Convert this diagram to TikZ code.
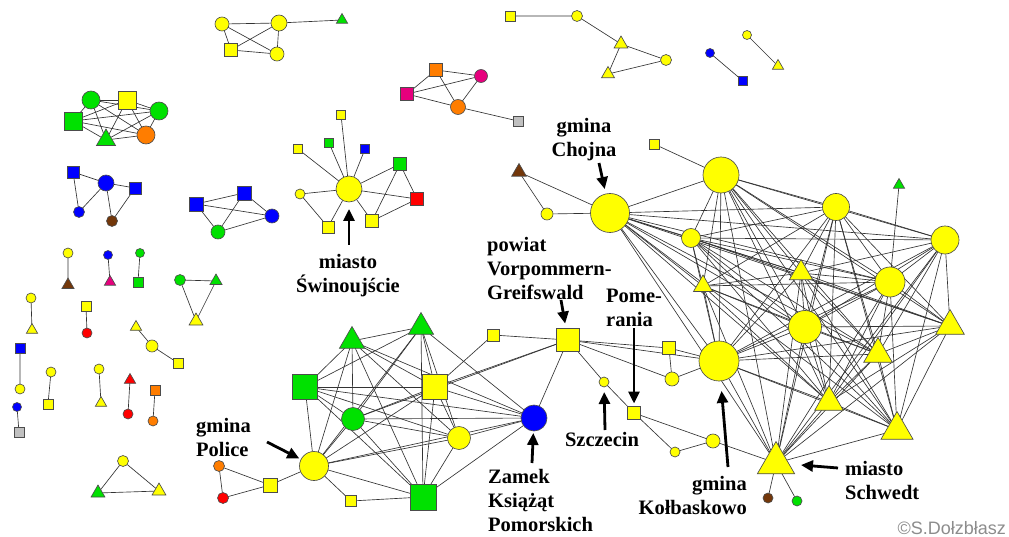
\documentclass[tikz,border=0pt]{standalone}
\usepackage{fontspec}
\setmainfont{Liberation Serif}[BoldFont={Liberation Serif Bold}]
\newfontfamily\creditfont{Liberation Sans}
\usepackage{tikz}
\usetikzlibrary{shapes.geometric, arrows.meta, backgrounds}

\definecolor{nodeyellow}{RGB}{255,255,0}
\definecolor{nodegreen}{RGB}{0,225,0}
\definecolor{nodeblue}{RGB}{0,0,255}
\definecolor{nodeorange}{RGB}{255,125,0}
\definecolor{nodemagenta}{RGB}{230,0,125}
\definecolor{nodered}{RGB}{255,0,0}
\definecolor{nodebrown}{RGB}{115,55,10}
\definecolor{nodegrey}{RGB}{192,192,192}

\begin{document}
\begin{tikzpicture}[x=1pt, y=-1pt,
    vertex/.style={draw=black!70, line width=0.65pt, inner sep=0pt, outer sep=0pt},
    circ/.style={vertex, circle, minimum size=#1},
    sq/.style={vertex, rectangle, minimum size=#1},
    tri/.style={vertex, regular polygon, regular polygon sides=3, minimum size=#1},
    link/.style={draw=black!80, line width=0.65pt},
    pointer/.style={-{Triangle[length=12pt, width=11pt]}, line width=2.8pt, black},
    callout/.style={font=\bfseries\fontsize{20.5}{24}\selectfont, inner sep=0pt}
]
\useasboundingbox (0,0) rectangle (1009,537);

% small groups on the left
\node[circ=18, fill=nodegreen] (tlA) at (91,100) {};
\node[sq=18, fill=nodeyellow] (tlB) at (127,100) {};
\node[circ=18, fill=nodegreen] (tlC) at (159,111) {};
\node[sq=18, fill=nodegreen] (tlD) at (73,121) {};
\node[tri=22, fill=nodegreen] (tlE) at (106,140) {};
\node[circ=18, fill=nodeorange] (tlF) at (146,135) {};

\node[sq=12, fill=nodeblue] (bA) at (73,172) {};
\node[circ=16, fill=nodeblue] (bB) at (106,183) {};
\node[sq=12, fill=nodeblue] (bC) at (135,188) {};
\node[circ=11, fill=nodeblue] (bD) at (79,212) {};
\node[circ=11, fill=nodebrown] (bE) at (112,221) {};

\node[sq=14, fill=nodeblue] (bgA) at (196,204) {};
\node[sq=14, fill=nodeblue] (bgB) at (244,193) {};
\node[circ=14, fill=nodeblue] (bgC) at (272,216) {};
\node[circ=14, fill=nodegreen] (bgD) at (218,232) {};

\node[circ=14, fill=nodeyellow] (tA) at (222,24) {};
\node[circ=16, fill=nodeyellow] (tB) at (279,23) {};
\node[sq=13, fill=nodeyellow] (tC) at (231,50) {};
\node[circ=14, fill=nodeyellow] (tD) at (277,54) {};
\node[tri=13, fill=nodegreen] (tE) at (342,20) {};

\node[circ=10, fill=nodeyellow] (a1) at (68,253) {};
\node[tri=14, fill=nodebrown] (a2) at (68,285) {};
\node[circ=9, fill=nodeblue] (b1) at (108,255) {};
\node[tri=13, fill=nodemagenta] (b2) at (110,282) {};
\node[circ=9, fill=nodegreen] (c1) at (140,253) {};
\node[sq=10, fill=nodegreen] (c2) at (138,282) {};
\node[circ=11, fill=nodegreen] (d1) at (180,280) {};
\node[tri=14, fill=nodegreen] (d2) at (216,281) {};
\node[tri=16, fill=nodeyellow] (d3) at (196,321) {};
\node[circ=10, fill=nodeyellow] (e1) at (31,298) {};
\node[tri=13, fill=nodeyellow] (e2) at (32,330) {};
\node[sq=10, fill=nodeyellow] (f1) at (86,306) {};
\node[circ=10, fill=nodered] (f2) at (87,333) {};
\node[tri=13, fill=nodeyellow] (g1) at (136,327) {};
\node[circ=12, fill=nodeyellow] (g2) at (152,346) {};
\node[sq=10, fill=nodeyellow] (g3) at (178,363) {};
\node[sq=10, fill=nodeblue] (h1) at (20,348) {};
\node[circ=10, fill=nodeyellow] (h2) at (20,389) {};
\node[circ=10, fill=nodeyellow] (i1) at (51,372) {};
\node[sq=10, fill=nodeyellow] (i2) at (48,404) {};
\node[circ=10, fill=nodeyellow] (j1) at (99,369) {};
\node[tri=13, fill=nodeyellow] (j2) at (101,403) {};
\node[tri=13, fill=nodered] (k1) at (130,380) {};
\node[circ=10, fill=nodered] (k2) at (128,414) {};
\node[sq=10, fill=nodeorange] (l1) at (155,390) {};
\node[circ=10, fill=nodeorange] (l2) at (153,421) {};
\node[circ=9, fill=nodeblue] (m1) at (17,407) {};
\node[sq=10, fill=nodegrey] (m2) at (19,432) {};
\node[circ=11, fill=nodeyellow] (n1) at (123,461) {};
\node[tri=16, fill=nodegreen] (n2) at (98,493) {};
\node[tri=16, fill=nodeyellow] (n3) at (159,491) {};

% Swinoujscie star
\node[circ=26, fill=nodeyellow] (sw) at (349,189) {};
\node[sq=9, fill=nodeyellow] (swA) at (341,115) {};
\node[sq=9, fill=nodegreen] (swB) at (329,143) {};
\node[sq=9, fill=nodeblue] (swC) at (365,149) {};
\node[sq=9, fill=nodeyellow] (swD) at (298,149) {};
\node[circ=10, fill=nodeyellow] (swE) at (300,194) {};
\node[sq=13, fill=nodegreen] (swF) at (400,164) {};
\node[sq=13, fill=nodered] (swG) at (417,199) {};
\node[sq=13, fill=nodeyellow] (swH) at (372,221) {};
\node[sq=12, fill=nodeyellow] (swI) at (328,227) {};

% top middle groups
\node[sq=13, fill=nodeorange] (mA) at (436,70) {};
\node[circ=13, fill=nodemagenta] (mB) at (481,76) {};
\node[sq=13, fill=nodemagenta] (mC) at (407,94) {};
\node[circ=15, fill=nodeorange] (mD) at (458,107) {};
\node[sq=10, fill=nodegrey] (mE) at (518,121) {};

\node[sq=10, fill=nodeyellow] (uA) at (510,16) {};
\node[circ=11, fill=nodeyellow] (uB) at (577,16) {};
\node[tri=16, fill=nodeyellow] (uC) at (621,44) {};
\node[circ=11, fill=nodeyellow] (uD) at (666,60) {};
\node[tri=15, fill=nodeyellow] (uE) at (608,74) {};
\node[circ=9, fill=nodeblue] (vA) at (710,53) {};
\node[sq=9, fill=nodeblue] (vB) at (743,81) {};
\node[circ=9, fill=nodeyellow] (wA) at (747,35) {};
\node[tri=13, fill=nodeyellow] (wB) at (778,66) {};

% main network
\node[tri=17, fill=nodebrown] (chT) at (519,172) {};
\node[circ=12, fill=nodeyellow] (chC) at (547,214) {};
\node[circ=39, fill=nodeyellow] (cho) at (610,213) {};
\node[sq=10, fill=nodeyellow] (chS) at (654,144) {};

\node[circ=36, fill=nodeyellow] (dA) at (721,175) {};
\node[circ=27, fill=nodeyellow] (dB) at (836,207) {};
\node[circ=28, fill=nodeyellow] (dC) at (945,240) {};
\node[tri=13, fill=nodegreen] (dGg) at (899,185) {};
\node[circ=19, fill=nodeyellow] (dD) at (691,238) {};
\node[tri=27, fill=nodeyellow] (dE) at (801,273) {};
\node[tri=22, fill=nodeyellow] (dF) at (703,286) {};
\node[circ=30, fill=nodeyellow] (dG) at (890,282) {};
\node[circ=33, fill=nodeyellow] (dH) at (805,327) {};
\node[tri=33, fill=nodeyellow] (dI) at (950,326) {};
\node[tri=33, fill=nodeyellow] (dJ) at (878,354) {};
\node[circ=40, fill=nodeyellow] (dK) at (719,361) {};
\node[tri=33, fill=nodeyellow] (dL) at (829,402) {};
\node[tri=37, fill=nodeyellow] (dM) at (897,430) {};
\node[tri=43, fill=nodeyellow] (dN) at (776,463) {};
\node[circ=10, fill=nodebrown] (nA) at (768,498) {};
\node[circ=10, fill=nodegreen] (nB) at (797,501) {};

\node[sq=12, fill=nodeyellow] (pL) at (493,335) {};
\node[sq=23, fill=nodeyellow] (pw) at (568,340) {};
\node[sq=13, fill=nodeyellow] (pQ) at (669,348) {};
\node[circ=14, fill=nodeyellow] (pR) at (672,379) {};
\node[circ=10, fill=nodeyellow] (sz) at (604,382) {};
\node[sq=13, fill=nodeyellow] (pom) at (634,413) {};
\node[circ=14, fill=nodeyellow] (pS) at (713,441) {};
\node[circ=10, fill=nodeyellow] (pT) at (675,452) {};
\node[circ=26, fill=nodeblue] (zam) at (534,418) {};

\node[tri=29, fill=nodegreen] (cT1) at (352,341) {};
\node[tri=29, fill=nodegreen] (cT2) at (421,327) {};
\node[sq=25, fill=nodegreen] (cS1) at (305,387) {};
\node[sq=25, fill=nodeyellow] (cS2) at (435,387) {};
\node[circ=23, fill=nodegreen] (cC1) at (353,419) {};
\node[circ=23, fill=nodeyellow] (cC2) at (459,438) {};
\node[circ=29, fill=nodeyellow] (pol) at (314,466) {};
\node[sq=26, fill=nodegreen] (cS3) at (423,497) {};
\node[sq=11, fill=nodeyellow] (cSm) at (351,501) {};
\node[sq=14, fill=nodeyellow] (cSy) at (270,485) {};
\node[circ=11, fill=nodeorange] (cO) at (219,466) {};
\node[circ=11, fill=nodered] (cR) at (223,498) {};

\begin{scope}[on background layer]
\draw[link] (tlA) edge (tlB) edge (tlC) edge (tlD) edge (tlE) edge (tlF)
    (tlB) edge (tlC) edge (tlD) edge (tlE) edge (tlF)
    (tlC) edge (tlD) edge (tlE) edge (tlF)
    (tlD) edge (tlE) edge (tlF)
    (tlE) edge (tlF);
\draw[link] (bA) edge (bB) edge (bD) (bB) edge (bC) edge (bD) edge (bE) (bC) edge (bE);
\draw[link] (bgA) edge (bgB) edge (bgC) edge (bgD) (bgB) edge (bgC) edge (bgD) (bgD) edge (bgC);
\draw[link] (tA) edge (tB) edge (tC) edge (tD) (tB) edge (tC) edge (tD) edge (tE) (tC) edge (tD);
\draw[link] (a1) -- (a2) (b1) -- (b2) (c1) -- (c2) (e1) -- (e2) (f1) -- (f2)
    (h1) -- (h2) (i1) -- (i2) (j1) -- (j2) (k1) -- (k2) (l1) -- (l2) (m1) -- (m2)
    (g1) -- (g2) -- (g3) (d1) -- (d2) -- (d3) -- (d1) (n1) -- (n2) -- (n3) -- (n1);
\draw[link] (sw) edge (swA) edge (swB) edge (swC) edge (swD) edge (swE) edge (swF)
    edge (swG) edge (swH) edge (swI)
    (swE) edge (swI) (swF) edge (swG) edge (swH) (swG) edge (swH);
\draw[link] (mA) edge (mB) edge (mC) edge (mD) (mB) edge (mC) edge (mD) (mC) edge (mD) (mD) edge (mE);
\draw[link] (uA) -- (uB) -- (uC) -- (uD) -- (uE) -- (uC) (vA) -- (vB) (wA) -- (wB);
% dense cluster
\draw[link] (chT) edge (chC) edge (cho) (chC) edge (cho) (chS) edge (dA);
\draw[link] (cho) edge (dA) edge (dB) edge (dC) edge (dD) edge (dE) edge (dF) edge (dG)
    edge (dH) edge (dI) edge (dJ) edge (dK) edge (dL) edge (dM) edge (dN);
\draw[link] (dA) edge (dB) edge (dC) edge (dD) edge (dE) edge (dF) edge (dG) edge (dH)
    edge (dI) edge (dJ) edge (dK) edge (dL) edge (dM) edge (dN);
\draw[link] (dB) edge (dC) edge (dD) edge (dE) edge (dF) edge (dG) edge (dH) edge (dI)
    edge (dJ) edge (dK) edge (dL) edge (dM) edge (dN);
\draw[link] (dC) edge (dD) edge (dE) edge (dG) edge (dH) edge (dI) edge (dJ) edge (dK)
    edge (dL) edge (dM) edge (dN);
\draw[link] (dD) edge (dE) edge (dF) edge (dG) edge (dH) edge (dI) edge (dJ) edge (dK)
    edge (dL) edge (dM);
\draw[link] (dE) edge (dF) edge (dG) edge (dH) edge (dI) edge (dJ) edge (dK) edge (dL)
    edge (dM) edge (dN);
\draw[link] (dF) edge (dG) edge (dH) edge (dJ) edge (dK) edge (dL) edge (dN);
\draw[link] (dG) edge (dGg) edge (dH) edge (dI) edge (dJ) edge (dK) edge (dL) edge (dM) edge (dN);
\draw[link] (dH) edge (dI) edge (dJ) edge (dK) edge (dL) edge (dM) edge (dN);
\draw[link] (dI) edge (dJ) edge (dK) edge (dL) edge (dM) edge (dN);
\draw[link] (dJ) edge (dK) edge (dL) edge (dM) edge (dN);
\draw[link] (dK) edge (dL) edge (dM) edge (dN) edge (pQ) edge (pR) edge (pw);
\draw[link] (dL) edge (dM) edge (dN) (dM) edge (dN);
\draw[link] (dN) edge (pS) edge (nA) edge (nB);
% Pomerania and Police
\draw[link] (pw) edge (pL) edge (pQ) edge (pR) edge (sz) edge (zam) edge (cC1) edge (cS2)
    (pQ) edge (pR) (sz) edge (pom) (pom) edge (pS) edge (pT) (pT) edge (pS)
    (pL) edge (cS2);
\draw[link] (cT1) edge (cT2) edge (cS1) edge (cS2) edge (cC1) edge (cC2) edge (pol) edge (cS3) edge (zam)
    (cT2) edge (cS1) edge (cS2) edge (cC1) edge (cC2) edge (pol) edge (cS3) edge (zam)
    (cS1) edge (cS2) edge (cC1) edge (cC2) edge (pol) edge (cS3) edge (zam)
    (cS2) edge (cC1) edge (cC2) edge (pol) edge (cS3) edge (zam)
    (cC1) edge (cC2) edge (pol) edge (cS3) edge (zam)
    (cC2) edge (pol) edge (cS3) edge (zam)
    (pol) edge (cS3) edge (zam) edge (cSm) edge (cSy)
    (cS3) edge (zam) edge (cSm)
    (cSy) edge (cO) edge (cR) (cO) edge (cR);
\end{scope}

% labels
\node[callout, align=center] (txtChojna) at (584,140) {gmina\\Chojna};
\node[callout, align=center] (txtSwin) at (348,276) {miasto\\Świnoujście};
\node[callout, align=left, anchor=west] (txtPowiat) at (487,268) {powiat\\Vorpommern-\\Greifswald};
\node[callout, align=left, anchor=west] (txtPom) at (606,308) {Pome-\\rania};
\node[callout] (txtSzcz) at (602,439) {Szczecin};
\node[callout, align=left, anchor=west] (txtZamek) at (488,500) {Zamek\\Książąt\\Pomorskich};
\node[callout, align=right, anchor=east] (txtKolb) at (747,495) {gmina\\Kołbaskowo};
\node[callout, align=left, anchor=west] (txtSchw) at (845,480) {miasto\\Schwedt};
\node[callout, align=left, anchor=west] (txtPolice) at (196,437) {gmina\\Police};
\node[font=\creditfont\fontsize{18}{20}\selectfont, text=black!45, anchor=east, inner sep=0pt] (credit) at (1006,528) {©S.Dołzbłasz};

% arrows
\coordinate (fromCho) at (599,163);
\coordinate (fromSwin) at (349,245);
\coordinate (fromPowiat) at (561,300);
\coordinate (fromPom) at (634,328);
\coordinate (fromSzcz) at (605,430);
\coordinate (fromZamek) at (532,463);
\coordinate (fromKolb) at (728,467);
\coordinate (fromSchw) at (838,468);
\coordinate (fromPolice) at (267,442);
\draw[pointer, shorten >=5pt] (fromCho) -- (cho);
\draw[pointer, shorten >=7pt] (fromSwin) -- (sw);
\draw[pointer, shorten >=5pt] (fromPowiat) -- (pw);
\draw[pointer, shorten >=3pt] (fromPom) -- (pom);
\draw[pointer, shorten >=5pt] (fromSzcz) -- (sz);
\draw[pointer, shorten >=2pt] (fromZamek) -- (zam);
\draw[pointer, shorten >=10pt] (fromKolb) -- (dK);
\draw[pointer, shorten >=12pt] (fromSchw) -- (dN);
\draw[pointer, shorten >=2pt] (fromPolice) -- (pol);
\end{tikzpicture}
\end{document}
